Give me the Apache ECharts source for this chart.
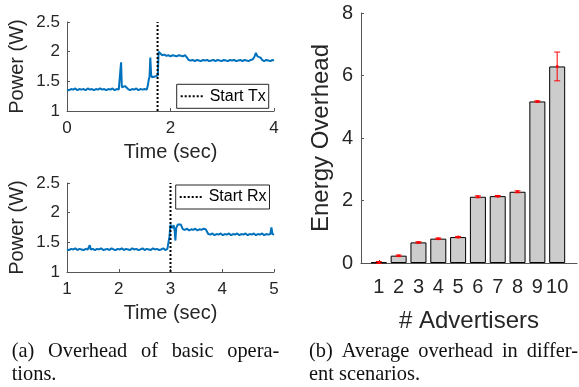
<!DOCTYPE html>
<html><head><meta charset="utf-8">
<script src="https://cdn.jsdelivr.net/npm/echarts@6/dist/echarts.min.js"></script>
<style>html,body{margin:0;padding:0;background:#fff}#c{width:579px;height:387px}</style>
</head><body><div id="c"></div>
<script>
// ---- Data ----
const txTime = 1.75;            // Start Tx marker (sec)
const rxTime = 3.0;             // Start Rx marker (sec)
const topTrace = [[0.00,1.36],[0.04,1.35],[0.08,1.37],[0.12,1.36],[0.16,1.38],[0.20,1.35],[0.24,1.37],[0.28,1.36],[0.32,1.37],[0.36,1.35],[0.40,1.38],[0.44,1.36],[0.48,1.37],[0.52,1.35],[0.56,1.37],[0.60,1.36],[0.64,1.38],[0.68,1.36],[0.72,1.37],[0.76,1.35],[0.80,1.37],[0.84,1.36],[0.88,1.38],[0.92,1.35],[0.96,1.37],[1.00,1.36],[1.03,1.37],[1.045,1.82],[1.06,1.40],[1.09,1.39],[1.12,1.42],[1.15,1.40],[1.18,1.37],[1.22,1.35],[1.26,1.37],[1.30,1.36],[1.34,1.38],[1.38,1.35],[1.42,1.37],[1.46,1.36],[1.50,1.37],[1.54,1.36],[1.56,1.42],[1.58,1.53],[1.595,1.58],[1.61,1.90],[1.625,1.62],[1.64,1.57],[1.67,1.56],[1.70,1.58],[1.73,1.57],[1.755,1.60],[1.77,2.00],[1.80,1.98],[1.84,1.94],[1.88,1.95],[1.92,1.93],[1.96,1.94],[2.00,1.92],[2.04,1.94],[2.08,1.93],[2.12,1.92],[2.16,1.94],[2.20,1.93],[2.24,1.92],[2.28,1.94],[2.30,1.97],[2.32,1.90],[2.35,1.86],[2.39,1.85],[2.43,1.86],[2.47,1.84],[2.51,1.86],[2.55,1.85],[2.59,1.84],[2.63,1.86],[2.67,1.85],[2.71,1.86],[2.75,1.84],[2.79,1.85],[2.83,1.86],[2.87,1.84],[2.91,1.86],[2.95,1.85],[2.99,1.84],[3.03,1.86],[3.07,1.85],[3.11,1.84],[3.15,1.86],[3.19,1.85],[3.23,1.86],[3.27,1.84],[3.31,1.85],[3.35,1.86],[3.39,1.84],[3.43,1.86],[3.47,1.85],[3.51,1.84],[3.55,1.86],[3.59,1.87],[3.62,1.91],[3.65,1.98],[3.68,1.92],[3.71,1.95],[3.74,1.90],[3.77,1.86],[3.81,1.84],[3.85,1.86],[3.89,1.85],[3.93,1.84],[3.97,1.86],[4.00,1.85]];
const bottomTrace = [[1.00,1.38],[1.04,1.37],[1.08,1.39],[1.12,1.38],[1.16,1.40],[1.20,1.37],[1.24,1.39],[1.28,1.38],[1.32,1.37],[1.36,1.39],[1.40,1.38],[1.43,1.38],[1.44,1.45],[1.46,1.38],[1.50,1.39],[1.54,1.37],[1.58,1.39],[1.62,1.38],[1.66,1.40],[1.70,1.37],[1.74,1.38],[1.78,1.39],[1.82,1.37],[1.86,1.40],[1.90,1.38],[1.94,1.37],[1.98,1.39],[2.02,1.38],[2.06,1.40],[2.10,1.37],[2.14,1.39],[2.18,1.38],[2.22,1.37],[2.26,1.40],[2.30,1.38],[2.34,1.39],[2.38,1.37],[2.42,1.38],[2.46,1.40],[2.50,1.37],[2.54,1.39],[2.58,1.38],[2.62,1.37],[2.66,1.40],[2.70,1.38],[2.74,1.39],[2.78,1.37],[2.82,1.38],[2.86,1.40],[2.90,1.37],[2.94,1.39],[2.96,1.42],[2.98,1.60],[3.00,1.80],[3.03,1.74],[3.06,1.79],[3.08,1.70],[3.095,1.53],[3.11,1.74],[3.14,1.80],[3.17,1.78],[3.20,1.80],[3.22,1.80],[3.24,1.72],[3.28,1.71],[3.32,1.73],[3.36,1.70],[3.40,1.72],[3.44,1.71],[3.48,1.73],[3.52,1.70],[3.56,1.72],[3.60,1.71],[3.64,1.73],[3.68,1.72],[3.71,1.71],[3.73,1.64],[3.77,1.63],[3.81,1.65],[3.85,1.62],[3.89,1.64],[3.93,1.63],[3.97,1.65],[4.01,1.62],[4.05,1.64],[4.09,1.63],[4.13,1.65],[4.17,1.62],[4.21,1.64],[4.25,1.63],[4.29,1.65],[4.33,1.62],[4.37,1.64],[4.41,1.63],[4.45,1.65],[4.49,1.62],[4.53,1.64],[4.57,1.63],[4.61,1.65],[4.65,1.62],[4.69,1.64],[4.73,1.63],[4.77,1.65],[4.81,1.62],[4.85,1.64],[4.89,1.63],[4.93,1.64],[4.95,1.75],[4.97,1.64],[5.00,1.63]];
const advertisers = [1,2,3,4,5,6,7,8,9,10];
const overhead = [0.02,0.235,0.66,0.78,0.83,2.12,2.14,2.28,5.17,6.29];
const overheadErr = [0.03,0.02,0.02,0.02,0.02,0.03,0.02,0.03,0.02,0.46];
const captionA = ["(a) Overhead of basic opera-", "tions."];
const captionB = ["(b) Average overhead in differ-", "ent scenarios."];

// ---- Chart ----
const FONT = "'Liberation Sans', Arial, Helvetica, sans-serif";
const CAPFONT = "20.4px 'Liberation Serif', 'Times New Roman', serif";
const TXT = '#262626';
const AX = '#555555';
const chart = echarts.init(document.getElementById('c'), null, {renderer:'canvas'});

function powerX(idx, min, max, interval){
  return {gridIndex: idx, type:'value', min, max, interval,
    name:'Time (sec)', nameLocation:'middle', nameGap:31,
    nameTextStyle:{fontSize:20, color:TXT, fontFamily:FONT},
    axisLine:{show:true, lineStyle:{color:AX, width:1}},
    axisTick:{show:true, inside:true, length:3, lineStyle:{color:AX}},
    axisLabel:{fontSize:17, color:TXT, margin:9, fontFamily:FONT},
    splitLine:{show:false}};
}
function powerY(idx){
  return {gridIndex: idx, type:'value', min:1, max:2.5, interval:0.5,
    name:'Power (W)', nameLocation:'middle', nameGap:40,
    nameTextStyle:{fontSize:20, color:TXT, fontFamily:FONT},
    axisLine:{show:true, lineStyle:{color:AX, width:1}},
    axisTick:{show:true, inside:true, length:3, lineStyle:{color:AX}},
    axisLabel:{fontSize:17, color:TXT, margin:7, fontFamily:FONT},
    splitLine:{show:false}};
}
function legendBox(name, left, top){
  return {data:[name], left, top, orient:'horizontal',
    backgroundColor:'#fff', borderColor:'#262626', borderWidth:1,
    padding:[4,3,4,3], itemWidth:24, itemHeight:14,
    itemStyle:{opacity:0, color:'rgba(0,0,0,0)', borderWidth:0},
    textStyle:{fontSize:16, color:'#000', fontFamily:FONT},
    selectedMode:false};
}

// justified caption layout (word positions measured with the caption font)
const measCtx = document.createElement('canvas').getContext('2d');
measCtx.font = CAPFONT;
const captionGraphics = [];
function addCaption(lines, x0, x1, baselines){
  lines.forEach((line, li) => {
    const words = line.split(' ');
    const widths = words.map(w => measCtx.measureText(w).width);
    const total = widths.reduce((a,b)=>a+b,0);
    const justify = li < lines.length - 1;
    const gap = justify ? (x1 - x0 - total) / (words.length - 1) : measCtx.measureText(' ').width;
    let x = x0;
    words.forEach((w, wi) => {
      captionGraphics.push({type:'text', x: x, y: baselines[li],
        style:{text:w, font:CAPFONT, fill:'#111', textVerticalAlign:'middle'}});
      x += widths[wi] + gap;
    });
  });
}
addCaption(captionA, 11.7, 279.3, [351.8, 374.5]);
addCaption(captionB, 309, 578, [351.8, 374.5]);

const option = {
  animation:false,
  textStyle:{fontFamily:FONT},
  grid:[
    {left:67, top:22, width:207, height:89, outerBoundsMode:'none'},
    {left:67, top:183, width:207, height:89, outerBoundsMode:'none'},
    {left:361, top:13, width:216, height:250, outerBoundsMode:'none'}
  ],
  xAxis:[
    powerX(0,0,4,2),
    powerX(1,1,5,1),
    {gridIndex:2, type:'value', min:0.1, max:11,
      name:'# Advertisers', nameLocation:'middle', nameGap:46,
      nameTextStyle:{fontSize:24, color:TXT, fontFamily:FONT},
      axisLine:{show:true, lineStyle:{color:AX, width:1}},
      axisTick:{show:true, inside:true, length:3, lineStyle:{color:AX}, customValues:advertisers},
      axisLabel:{fontSize:20, color:TXT, margin:14, fontFamily:FONT, customValues:advertisers, hideOverlap:false},
      splitLine:{show:false}}
  ],
  yAxis:[
    powerY(0), powerY(1),
    {gridIndex:2, type:'value', min:0, max:8, interval:2,
      name:'Energy Overhead', nameLocation:'middle', nameGap:28,
      nameTextStyle:{fontSize:24, color:TXT, fontFamily:FONT},
      axisLine:{show:true, lineStyle:{color:AX, width:1}},
      axisTick:{show:true, inside:true, length:3, lineStyle:{color:AX}},
      axisLabel:{fontSize:20, color:TXT, margin:8, fontFamily:FONT},
      splitLine:{show:false}}
  ],
  legend:[ legendBox('Start Tx', 176.7, 84.3), legendBox('Start Rx', 175.7, 185) ],
  series:[
    {type:'line', name:'trace-tx', xAxisIndex:0, yAxisIndex:0, data:topTrace, showSymbol:false, symbol:'none',
      lineStyle:{color:'#0072BD', width:2}, z:2},
    {type:'line', name:'Start Tx', xAxisIndex:0, yAxisIndex:0, data:[[txTime,1],[txTime,2.5]], showSymbol:false, symbol:'none',
      itemStyle:{color:'#000'}, lineStyle:{color:'#000', width:2, type:'dotted'}, z:3},
    {type:'line', name:'trace-rx', xAxisIndex:1, yAxisIndex:1, data:bottomTrace, showSymbol:false, symbol:'none',
      lineStyle:{color:'#0072BD', width:2}, z:2},
    {type:'line', name:'Start Rx', xAxisIndex:1, yAxisIndex:1, data:[[rxTime,1],[rxTime,2.5]], showSymbol:false, symbol:'none',
      itemStyle:{color:'#000'}, lineStyle:{color:'#000', width:2, type:'dotted'}, z:3},
    {type:'bar', name:'overhead', xAxisIndex:2, yAxisIndex:2, barWidth:16,
      data: advertisers.map((a,i)=>[a, overhead[i]]),
      itemStyle:{color:'#cccccc', borderColor:'#000', borderWidth:1}},
    {type:'custom', name:'err', xAxisIndex:2, yAxisIndex:2, z:5,
      data: advertisers.map((a,i)=>[a, overhead[i], overheadErr[i]]),
      renderItem:function(params, api){
        const x = api.value(0), v = api.value(1), e = api.value(2);
        const top = api.coord([x, v+e]), bot = api.coord([x, v-e]), mid = api.coord([x, v]);
        const h = 3, st = {stroke:'#ff0000', lineWidth:1};
        return {type:'group', children:[
          {type:'line', shape:{x1:top[0], y1:top[1], x2:bot[0], y2:bot[1]}, style:st},
          {type:'line', shape:{x1:top[0]-h, y1:top[1], x2:top[0]+h, y2:top[1]}, style:st},
          {type:'line', shape:{x1:bot[0]-h, y1:bot[1], x2:bot[0]+h, y2:bot[1]}, style:st},
          {type:'circle', shape:{cx:mid[0], cy:mid[1], r:1.5}, style:{fill:'#ff0000'}}
        ]};
      }}
  ],
  graphic: captionGraphics
};
chart.setOption(option);
</script>
</body></html>
